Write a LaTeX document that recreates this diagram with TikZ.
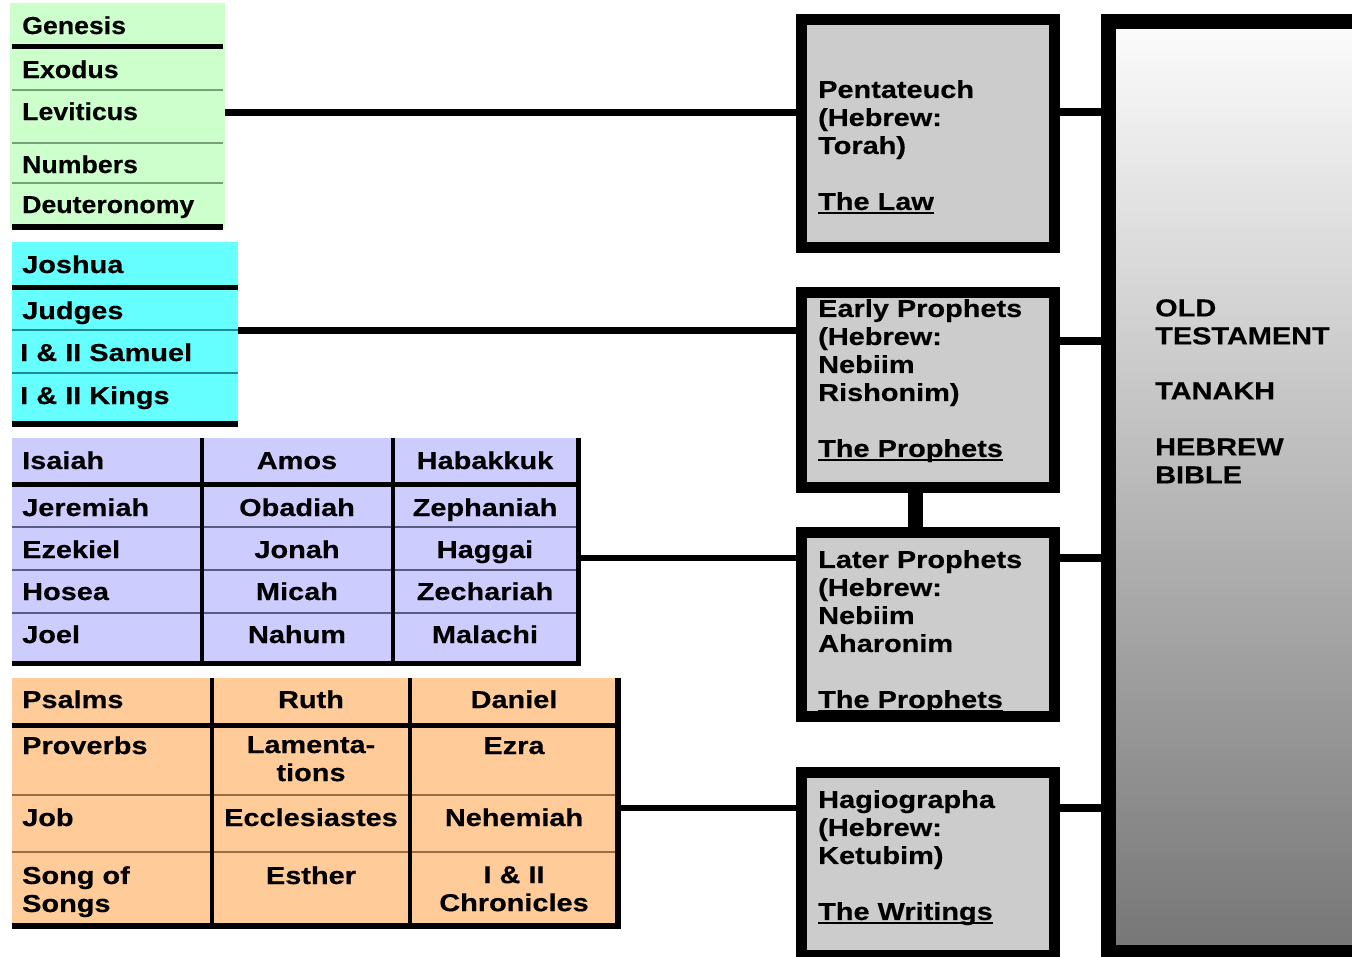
\documentclass[tikz,border=0pt]{standalone}
\usepackage{fontspec}
\setmainfont{Liberation Sans}[FakeStretch=1.18,BoldFeatures={FakeBold=0.4}]
\newfontfamily\lawfont{Liberation Sans}[FakeStretch=1.09,BoldFeatures={FakeBold=0.4}]
\definecolor{cgreen}{RGB}{204,255,204}
\definecolor{ccyan}{RGB}{102,255,255}
\definecolor{clav}{RGB}{204,204,255}
\definecolor{cpeach}{RGB}{255,204,153}
\definecolor{cbox}{RGB}{204,204,204}
\definecolor{thgreen}{RGB}{120,160,120}
\definecolor{thcyan}{RGB}{30,140,140}
\definecolor{thlav}{RGB}{90,90,130}
\definecolor{thpeach}{RGB}{150,110,70}
\definecolor{ottop}{RGB}{252,252,252}
\definecolor{otbot}{RGB}{118,118,118}
\newcommand\myul[1]{\setbox0=\hbox{#1}\rlap{\rule[-4pt]{\wd0}{2pt}}\box0}
\begin{document}
\begin{tikzpicture}[x=1pt,y=-1pt,
  font=\bfseries\fontsize{24.5}{28}\selectfont,
  blockfill/.style={inner sep=0pt,outer sep=0pt,anchor=north west,draw=none},
  thickrule/.style={line width=5pt,black},
  thinrule/.style={line width=1.8pt},
  colrule/.style={line width=4pt,black},
  bookl/.style={inner sep=0pt,anchor=base west},
  lawbook/.style={bookl,font=\lawfont\bfseries\fontsize{24.5}{28}\selectfont},
  bookc/.style={inner sep=0pt,anchor=base},
  booktwo/.style={inner sep=0pt,anchor=north,align=center},
  booktwol/.style={inner sep=0pt,anchor=north west,align=left},
  conn/.style={line width=7pt,black},
  grpbox/.style={draw=black,fill=cbox,line width=11pt,inner sep=0pt,outer sep=0pt},
  boxtext/.style={inner sep=0pt,anchor=north west,align=left}]
\useasboundingbox (0,0) rectangle (1352,956);
\clip (0,0) rectangle (1352,956);
\fill[white] (0,0) rectangle (1352,956);

% ---------- Pentateuch books ----------
\node[blockfill,fill=cgreen,minimum width=215pt,minimum height=225pt] (lawbk) at (10,3) {};
\draw[thickrule] (12,46) -- (223,46);
\draw[thinrule,thgreen] (12,90) -- (223,90);
\draw[thinrule,thgreen] (12,143) -- (223,143);
\draw[thinrule,thgreen] (12,183) -- (223,183);
\draw[thickrule,line width=6pt] (12,227) -- (223,227);
\node[lawbook] (gen) at (22,34) {Genesis};
\node[lawbook] (exo) at (22,78) {Exodus};
\node[lawbook] (lev) at (22,120) {Leviticus};
\node[lawbook] (num) at (22,173) {Numbers};
\node[lawbook] (deu) at (22,213) {Deuteronomy};

% ---------- Early prophets books ----------
\node[blockfill,fill=ccyan,minimum width=226pt,minimum height=183pt] (prophA) at (12,242) {};
\draw[thickrule] (12,287) -- (238,287);
\draw[thinrule,thcyan] (12,330) -- (238,330);
\draw[thinrule,thcyan] (12,373) -- (238,373);
\draw[thickrule,line width=6pt] (12,424) -- (238,424);
\node[bookl] (jos) at (22,273) {Joshua};
\node[bookl] (jdg) at (22,319) {Judges};
\node[bookl] (sam) at (20,361) {I \& II Samuel};
\node[bookl] (kgs) at (20,404) {I \& II Kings};

% ---------- Later prophets books ----------
\node[blockfill,fill=clav,minimum width=566pt,minimum height=225pt] (prophB) at (12,438) {};
\draw[thinrule,thlav] (12,527) -- (578,527);
\draw[thinrule,thlav] (12,570) -- (578,570);
\draw[thinrule,thlav] (12,613) -- (578,613);
\draw[colrule] (202,438) -- (202,663);
\draw[colrule] (393,438) -- (393,663);
\draw[thickrule] (12,484) -- (578,484);
\draw[thickrule] (12,663) -- (581,663);
\draw[line width=5pt] (578,438) -- (578,665.5);
\node[bookl] (isa) at (22,469) {Isaiah};
\node[bookl] (jer) at (22,516) {Jeremiah};
\node[bookl] (eze) at (22,558) {Ezekiel};
\node[bookl] (hos) at (22,600) {Hosea};
\node[bookl] (joe) at (22,643) {Joel};
\node[bookc] (amo) at (297,469) {Amos};
\node[bookc] (oba) at (297,516) {Obadiah};
\node[bookc] (jon) at (297,558) {Jonah};
\node[bookc] (mic) at (297,600) {Micah};
\node[bookc] (nah) at (297,643) {Nahum};
\node[bookc] (hab) at (485,469) {Habakkuk};
\node[bookc] (zep) at (485,516) {Zephaniah};
\node[bookc] (hag) at (485,558) {Haggai};
\node[bookc] (zec) at (485,600) {Zechariah};
\node[bookc] (mal) at (485,643) {Malachi};

% ---------- Writings books ----------
\node[blockfill,fill=cpeach,minimum width=606pt,minimum height=248pt] (writbk) at (12,678) {};
\draw[thinrule,thpeach] (12,795) -- (618,795);
\draw[thinrule,thpeach] (12,852) -- (618,852);
\draw[colrule] (212,678) -- (212,926);
\draw[colrule] (410,678) -- (410,926);
\draw[thickrule] (12,725) -- (618,725);
\draw[thickrule,line width=6pt] (12,926) -- (621,926);
\draw[line width=6pt] (618,678) -- (618,929);
\node[bookl] (psa) at (22,708) {Psalms};
\node[bookc] (rut) at (311,708) {Ruth};
\node[bookc] (dan) at (514,708) {Daniel};
\node[bookl] (pro) at (22,754) {Proverbs};
\node[booktwo] (lam) at (311,736) {Lamenta-\\tions};
\node[bookc] (ezr) at (514,754) {Ezra};
\node[bookl] (job) at (22,826) {Job};
\node[bookc] (ecc) at (311,826) {Ecclesiastes};
\node[bookc] (neh) at (514,826) {Nehemiah};
\node[booktwol] (sos) at (22,866) {Song of\\Songs};
\node[bookc] (est) at (311,884) {Esther};
\node[booktwo] (chr) at (514,866) {I \& II\\Chronicles};

% ---------- connector levels ----------
\coordinate (ylaw) at (0,112);
\coordinate (yearly) at (0,330);
\coordinate (yearlyr) at (0,341);
\coordinate (ylater) at (0,558);
\coordinate (ywrit) at (0,808);
\coordinate (xlink) at (915,0);

% ---------- group boxes ----------
\node[grpbox,minimum width=253pt,minimum height=228pt] (pent) at (928,133.5) {};
\node[grpbox,minimum width=253pt,minimum height=195pt] (early) at (928,390) {};
\node[grpbox,minimum width=253pt,minimum height=184pt] (later) at (928,624.5) {};
\node[grpbox,minimum width=253pt,minimum height=183pt] (hagio) at (928,864) {};

\node[draw=black,line width=15pt,top color=ottop,bottom color=otbot,
      minimum width=262pt,minimum height=931pt,inner sep=0pt,outer sep=0pt] (ot) at (1239.5,487) {};

% ---------- connectors ----------
\draw[conn] (lawbk.east |- ylaw) -- (pent.west |- ylaw);
\draw[conn] (prophA.east |- yearly) -- (early.west |- yearly);
\draw[conn,line width=6pt] (prophB.east |- ylater) -- (later.west |- ylater);
\draw[conn,line width=6pt] (writbk.east |- ywrit) -- (hagio.west |- ywrit);
\draw[conn,line width=8pt] (pent.east |- ylaw) -- (ot.west |- ylaw);
\draw[conn,line width=8pt] (early.east |- yearlyr) -- (ot.west |- yearlyr);
\draw[conn,line width=8pt] (later.east |- ylater) -- (ot.west |- ylater);
\draw[conn,line width=8pt] (hagio.east |- ywrit) -- (ot.west |- ywrit);
\draw[line width=15pt] (early.south -| xlink) -- (later.north -| xlink);

% ---------- box texts ----------
\node[boxtext] (pentt) at (818,80) {Pentateuch\\(Hebrew:\\Torah)\\[28pt]\myul{The Law}};
\node[boxtext] (earlyt) at (818,299) {Early Prophets\\(Hebrew:\\Nebiim\\Rishonim)\\[28pt]\myul{The Prophets}};
\node[boxtext] (latert) at (818,550) {Later Prophets\\(Hebrew:\\Nebiim\\Aharonim\\[28pt]\myul{The Prophets}};
\node[boxtext] (hagiot) at (818,790) {Hagiographa\\(Hebrew:\\Ketubim)\\[28pt]\myul{The Writings}};
\node[boxtext] (ott) at (1155,299) {OLD\\TESTAMENT\\[27pt]TANAKH\\[28pt]HEBREW\\BIBLE};
\end{tikzpicture}
\end{document}
